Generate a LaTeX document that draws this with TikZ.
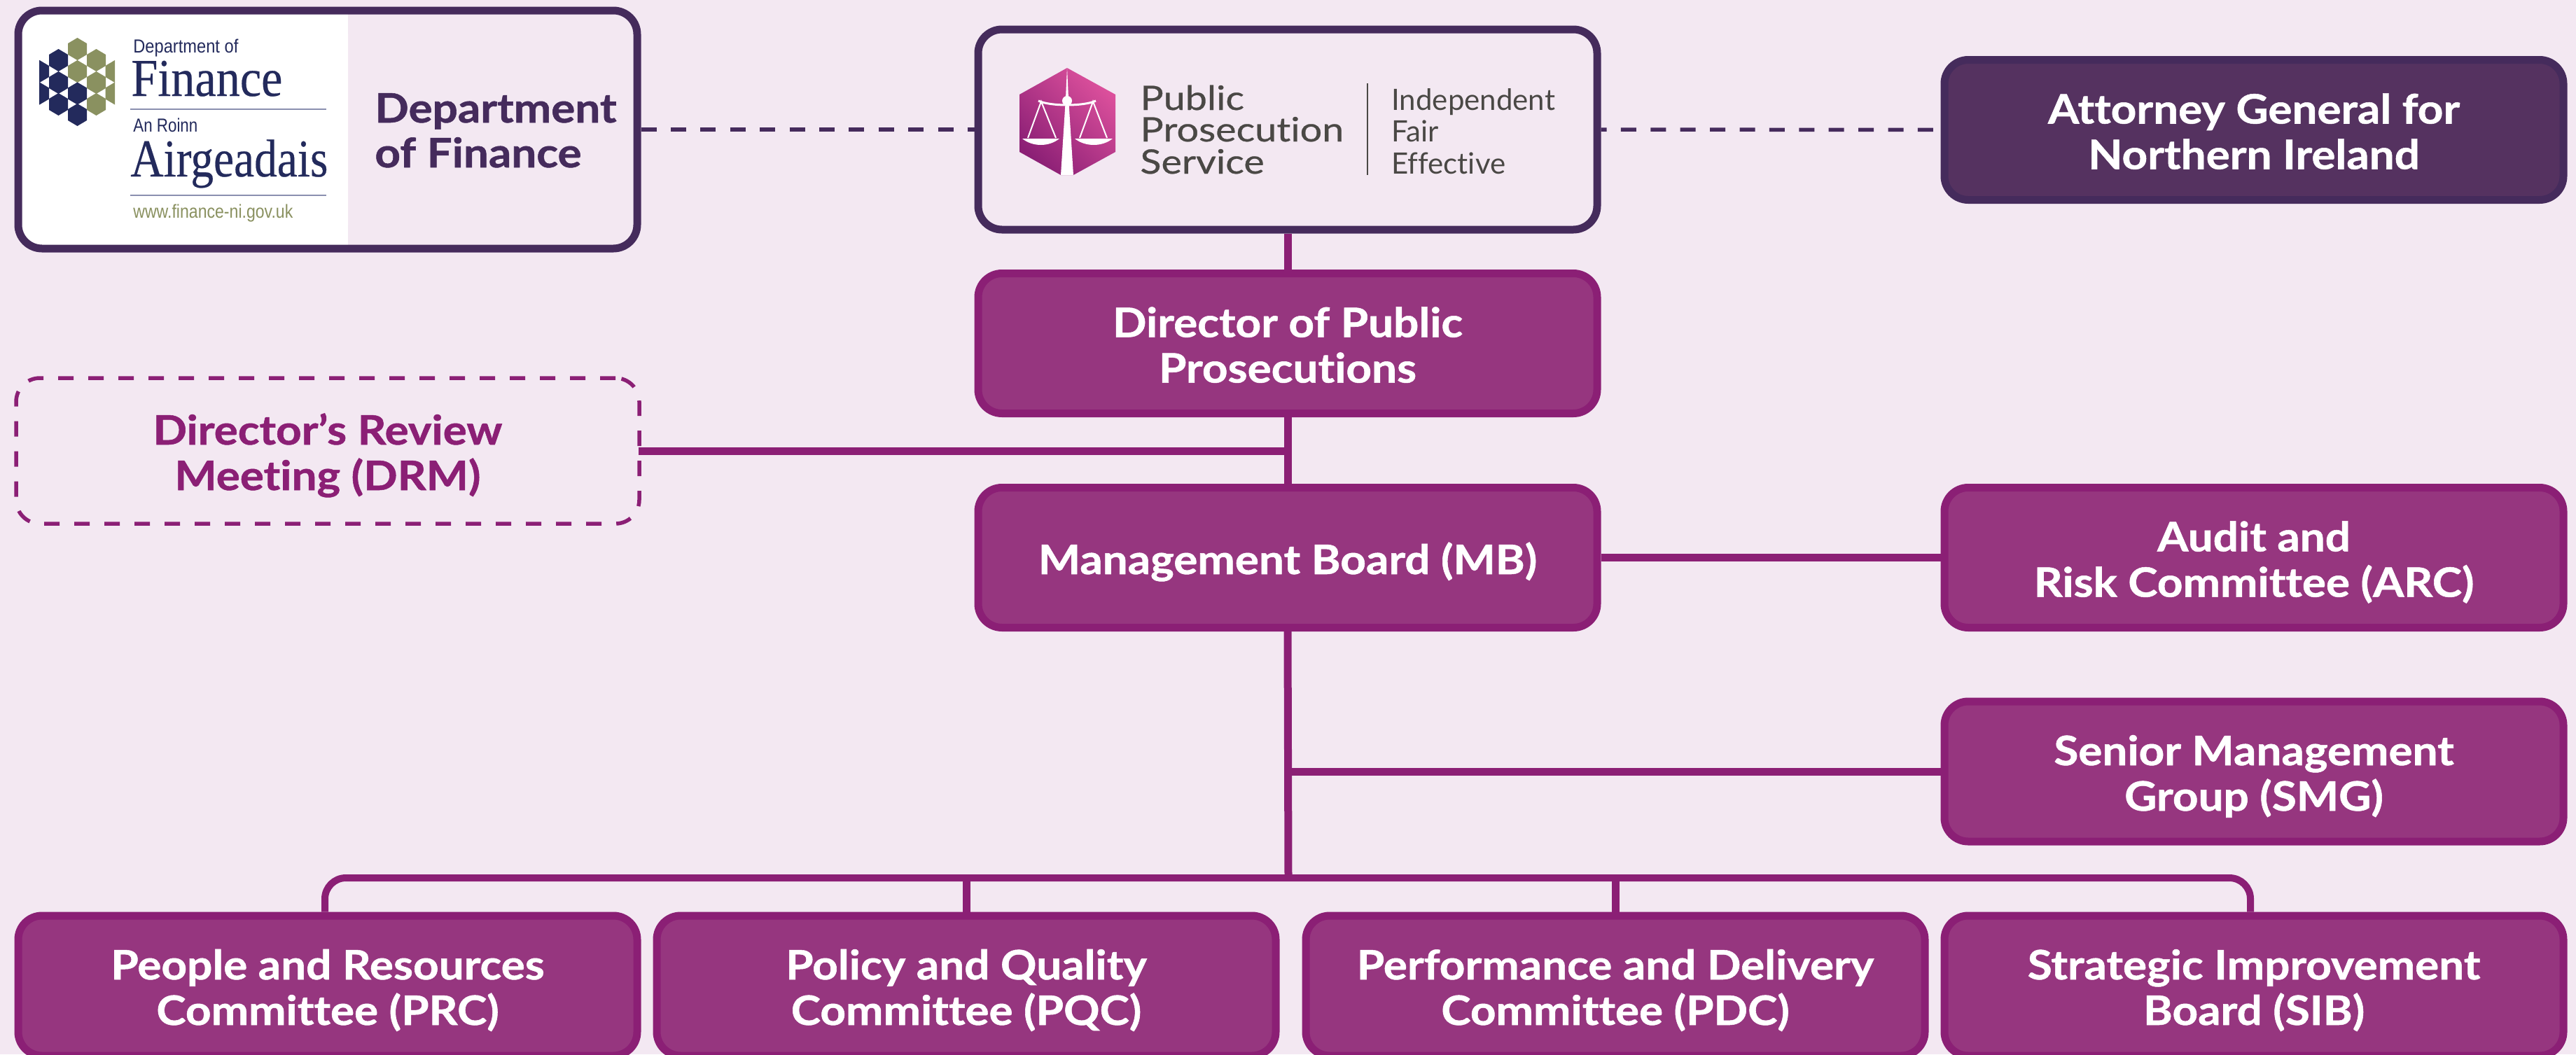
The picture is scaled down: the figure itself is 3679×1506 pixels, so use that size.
\documentclass[tikz,border=0pt]{standalone}
\usepackage{fontspec}
\usepackage{graphicx}
\setmainfont{Lato}[Ligatures=NoCommon,BoldFeatures={FakeBold=0.9}]
\newfontfamily\logoserif{Liberation Serif}[FakeBold=0.35]
\newfontfamily\logosans{Liberation Sans}
\newfontfamily\ppsfont{Lato}[Ligatures=NoCommon,FakeBold=0.5]
\definecolor{bg}{HTML}{F3E8F2}
\definecolor{magline}{HTML}{8B1F75}
\definecolor{magfill}{HTML}{96367F}
\definecolor{darkline}{HTML}{452B5C}
\definecolor{darkfill}{HTML}{553260}
\definecolor{navy}{HTML}{232A5C}
\definecolor{olive}{HTML}{8A9160}
\definecolor{rulecol}{HTML}{8A8FAF}
\definecolor{greytxt}{HTML}{4A4845}
\definecolor{logolight}{HTML}{DC509C}
\newcommand\Ln[1]{\rule[-3.75pt]{0pt}{31pt}\smash{\resizebox{1.1\width}{\height}{#1}}}
\tikzset{
  boxbase/.style={rectangle,rounded corners=17pt,line width=5.5pt,inner sep=0pt,
    minimum width=442pt,minimum height=100pt,align=center,
    font=\fontsize{29}{32.5}\selectfont\bfseries},
  magbox/.style={boxbase,draw=magline,fill=magfill,text=white},
  darkbox/.style={boxbase,draw=darkline,fill=darkfill,text=white},
  logobox/.style={boxbase,draw=darkline,text=darkline},
  dashbox/.style={boxbase,draw=magline,text=magline,line width=2.75pt,
    minimum width=445pt,minimum height=104pt,dash pattern=on 11pt off 10.5pt},
  conn/.style={draw=magline,line width=5.5pt},
  thinconn/.style={draw=magline,line width=5pt},
  dashconn/.style={draw=darkline,line width=2.75pt,dash pattern=on 11pt off 10.2pt},
  logotxt/.style={inner sep=0pt,anchor=base west},
  hexg/.style={fill=olive,draw=none},
  hexn/.style={fill=navy,draw=none},
}
\newcommand\hexa[3]{\path[#3] (#1,#2-16) -- (#1+13.5,#2-8) -- (#1+13.5,#2+8) -- (#1,#2+16) -- (#1-13.5,#2+8) -- (#1-13.5,#2-8) -- cycle;}
\begin{document}
\begin{tikzpicture}[x=0.5pt,y=-0.5pt]
\useasboundingbox (0,0) rectangle (3679,1506);
\clip (0,0) rectangle (3679,1506);
\fill[bg] (0,0) rectangle (3679,1506);

% white panel of the Finance logo
\fill[white,rounded corners=17pt] (26,15) -- (497,15) -- (497,355) -- (26,355) -- cycle;
\fill[white] (300,15) rectangle (497,355);

\node[logobox] (fin) at (468,185) [minimum height=170pt] {};
\node[logotxt,text=darkline,font=\fontsize{29}{32.5}\selectfont\bfseries] (fint1) at (535,175) {\resizebox{1.1\width}{\height}{Department}};
\node[logotxt,text=darkline,font=\fontsize{29}{32.5}\selectfont\bfseries] (fint2) at (535,239) {\resizebox{1.1\width}{\height}{of Finance}};

\node[logobox] (pps) at (1839,185) [minimum height=143pt] {};
\node[darkbox] (ag) at (3219,185.5) {\Ln{Attorney General for}\\\Ln{Northern Ireland}};
\node[magbox] (dpp) at (1839,490.5) {\Ln{Director of Public}\\\Ln{Prosecutions}};
\node[dashbox] (drm) at (468,644) {};
\node[text=magline,boxbase,draw=none] (drmt) at (468,644) {\Ln{Director’s Review}\\\Ln{Meeting (DRM)}};
\node[magbox] (mb) at (1839,796.5) {\Ln{Management Board (MB)}};
\node[magbox] (arc) at (3219,796.5) {\Ln{Audit and}\\\Ln{Risk Committee (ARC)}};
\node[magbox] (smg) at (3219,1102) {\Ln{Senior Management}\\\Ln{Group (SMG)}};
\node[magbox] (prc) at (468,1408) {\Ln{People and Resources}\\\Ln{Committee (PRC)}};
\node[magbox] (pqc) at (1380,1408) {\Ln{Policy and Quality}\\\Ln{Committee (PQC)}};
\node[magbox] (pdc) at (2307,1408) {\Ln{Performance and Delivery}\\\Ln{Committee (PDC)}};
\node[magbox] (sib) at (3219,1408) {\Ln{Strategic Improvement}\\\Ln{Board (SIB)}};

% connectors
\coordinate (bus) at (1840,1254);
\draw[dashconn] (fin.east) -- (pps.west);
\draw[dashconn,dash phase=7pt] (pps.east) -- (ag.west);
\draw[conn] (pps.south) -- (dpp.north);
\draw[conn] (dpp.south) -- (mb.north);
\draw[conn] ([xshift=-2pt]drm.east) -- ([xshift=-2pt]drm.east -| dpp.south);
\draw[conn] (mb.east) -- (arc.west);
\draw[conn] (mb.south) -- (bus);
\draw[conn] (smg.west) -- (smg.west -| mb.south);
\draw[thinconn,rounded corners=15pt] ([xshift=-2pt]prc.north) |- (bus) -| ([xshift=-2.5pt]sib.north);
\draw[conn] (pqc.north) -- (pqc.north |- bus);
\draw[conn] (pdc.north) -- (pdc.north |- bus);

% Department of Finance logo
\hexa{110.5}{70}{hexg}\hexa{110.5}{102}{hexg}\hexa{110.5}{133.5}{hexn}\hexa{110.5}{164}{hexn}
\hexa{83.5}{86}{hexn}\hexa{83.5}{118}{hexn}\hexa{83.5}{149}{hexn}
\hexa{137.5}{86}{hexg}\hexa{137.5}{118}{hexg}\hexa{137.5}{149}{hexg}
\begin{scope}
\clip (56,80) rectangle (164,160);
\hexa{56.5}{102}{hexn}\hexa{56.5}{133.5}{hexn}
\hexa{164}{102}{hexg}\hexa{164}{133.5}{hexg}
\end{scope}
\node[logotxt,text=navy,font=\logosans\fontsize{13.5}{15}\selectfont] (l1) at (190,75) {\resizebox{75pt}{\height}{Department of}};
\node[logotxt,text=navy,font=\logoserif\fontsize{38}{42}\selectfont] (l2) at (187,137) {\resizebox{108pt}{\height}{Finance}};
\node[logotxt,text=navy,font=\logosans\fontsize{13.5}{15}\selectfont] (l3) at (190,188) {\resizebox{46pt}{\height}{An Roinn}};
\node[logotxt,text=navy,font=\logoserif\fontsize{38}{42}\selectfont] (l4) at (186,252) {\resizebox{141pt}{\height}{Airgeadais}};
\node[logotxt,text=olive,font=\logosans\fontsize{13.5}{15}\selectfont] (l5) at (190,311) {\resizebox{114pt}{\height}{www.finance-ni.gov.uk}};
\draw[rulecol,line width=1pt] (186,156) -- (466,156);
\draw[rulecol,line width=1pt] (186,279) -- (466,279);

% PPS logo
\path[left color=logolight,right color=magline,shading angle=-45]
  (1524,97) -- (1593,135) -- (1593,217) -- (1533,250) -- (1515,250) -- (1456,217) -- (1456,135) -- cycle;
\path[fill=white] (1524,97) -- (1526,140) -- (1533,250) -- (1515,250) -- (1522,140) -- cycle;
\fill[white] (1524,144) circle (7);
\draw[white,line width=1.5pt] (1483,144) .. controls (1500,152) and (1548,152) .. (1565,144);
\draw[white,line width=1pt] (1468,197) -- (1487,145) -- (1508,197);
\draw[white,line width=1pt] (1542,197) -- (1561,145) -- (1581,197);
\fill[white] (1460,198) .. controls (1475,210) and (1498,210) .. (1513,198) -- cycle;
\fill[white] (1535,198) .. controls (1550,210) and (1574,210) .. (1589,198) -- cycle;
\node[logotxt,text=greytxt,font=\ppsfont\fontsize{24}{28}\selectfont] (p1) at (1628,157) {\resizebox{1.16\width}{\height}{Public}};
\node[logotxt,text=greytxt,font=\ppsfont\fontsize{24}{28}\selectfont] (p2) at (1628,202) {\resizebox{1.16\width}{\height}{Prosecution}};
\node[logotxt,text=greytxt,font=\ppsfont\fontsize{24}{28}\selectfont] (p3) at (1628,248) {\resizebox{1.16\width}{\height}{Service}};
\draw[greytxt,line width=0.75pt] (1953,119) -- (1953,250);
\node[logotxt,text=greytxt,font=\fontsize{21}{26}\selectfont] (t1) at (1987,157) {Independent};
\node[logotxt,text=greytxt,font=\fontsize{21}{26}\selectfont] (t2) at (1987,202) {Fair};
\node[logotxt,text=greytxt,font=\fontsize{21}{26}\selectfont] (t3) at (1987,248) {Effective};
\end{tikzpicture}
\end{document}
